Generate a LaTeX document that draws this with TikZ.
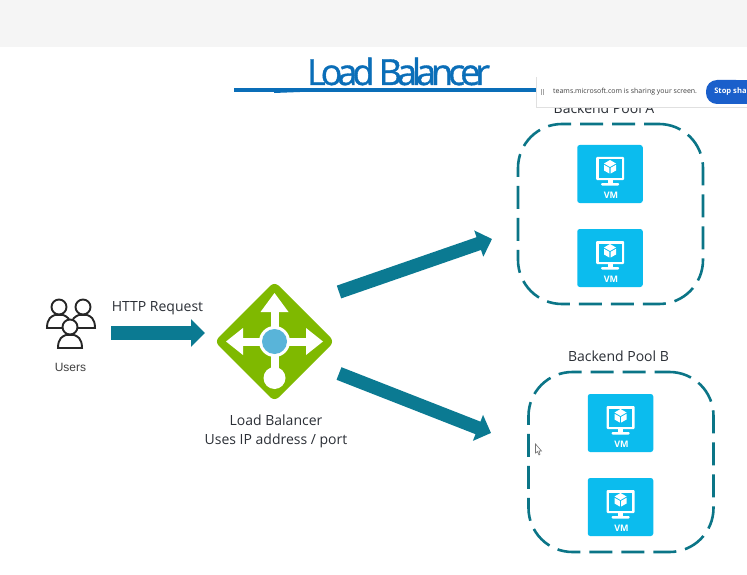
\documentclass[tikz,border=0pt]{standalone}
\usepackage{fontspec}
\setmainfont{Open Sans}
\newfontfamily\titlefont[LetterSpace=-14,FakeBold=1]{Open Sans}
\newfontfamily\armfont{Liberation Sans}
\usetikzlibrary{arrows.meta,shapes.geometric}
\definecolor{teal1}{HTML}{0B7A92}
\definecolor{teal2}{HTML}{0B7587}
\definecolor{vmblue}{HTML}{0BBCEE}
\definecolor{lbgreen}{HTML}{7FB900}
\definecolor{lbblue}{HTML}{59B4D9}
\definecolor{titleblue}{HTML}{0A6EB8}
\definecolor{btnblue}{HTML}{1A5FCB}
\definecolor{txt}{HTML}{2B2F36}
\tikzset{
  flow/.style={line width=13.5pt,teal1,-{Triangle[length=14pt,width=27pt]}},
  poolbox/.style={draw=teal2,line width=2.6pt,rounded corners=44pt,dash pattern=on 23pt off 9pt,dash phase=8pt,minimum width=185pt,minimum height=180pt,inner sep=0pt},
  vmtile/.style={fill=vmblue,rounded corners=2.5pt,minimum width=65.5pt,minimum height=58pt,inner sep=0pt},
  lbl/.style={font=\fontsize{14}{19}\selectfont,text=txt,inner sep=0pt,align=center},
  person/.style={draw=black!85,line width=1.9pt,fill=white},
  pics/vmicon/.style={code={
    \fill[white,rounded corners=1pt] (-14,-17) rectangle (14,6);
    \fill[vmblue] (-11.5,-14.5) rectangle (11.5,3.5);
    \fill[white] (-2.5,6) rectangle (2.5,10);
    \fill[white,rounded corners=1pt] (-9,9) rectangle (9,11.5);
    \fill[white] (0,-14) -- (6,-10.5) -- (0,-7) -- (-6,-10.5) -- cycle;
    \fill[white] (-6,-9.2) -- (-0.7,-6.2) -- (-0.7,-0.5) -- (-6,-3.5) -- cycle;
    \fill[white] (6,-9.2) -- (0.7,-6.2) -- (0.7,-0.5) -- (6,-3.5) -- cycle;
    \node[text=white,inner sep=0pt,font=\fontsize{9}{10}\bfseries\selectfont] at (1,21.5) {VM};
  }},
  pics/personicon/.style={code={
    \draw[person] (-12,21) .. controls (-12,11) and (-7,9) .. (-4,8) -- (4,8) .. controls (7,9) and (12,11) .. (12,21) -- cycle;
    \draw[person] (0,0) circle[radius=7.5];
  }}
}
\begin{document}
\begin{tikzpicture}[x=1pt,y=-1pt]
\useasboundingbox (0,0) rectangle (747,575);
\fill[white] (0,0) rectangle (747,575);
\fill[black!4] (0,0) rectangle (747,47);

% title
\node[inner sep=0pt,text=titleblue,font=\titlefont\fontsize{36}{40}\selectfont] (title) at (398.5,71.5) {Load Balancer};
\fill[titleblue] (234,88) rectangle (540,92);
\fill[titleblue] (274,92) -- (300,92) -- (274,93) -- cycle;

% users
\pic at (59,307) {personicon};
\pic at (83,307) {personicon};
\pic at (70,327) {personicon};
\node[inner sep=0pt,text=black!75,font=\armfont\fontsize{12}{14}\selectfont] (users) at (70.5,367.5) {Users};
\coordinate (usersout) at (111,333);
\node[lbl] (http) at (157.5,308.5) {HTTP Request};

% load balancer
\node[diamond,fill=lbgreen,draw=lbgreen,line width=12pt,line join=round,minimum width=108pt,minimum height=108pt,inner sep=0pt] (lb) at (274.5,341.5) {};
\draw[white,line width=8pt] (274.5,378) -- (274.5,305);
\draw[white,line width=8pt] (235,341.5) -- (313,341.5);
\fill[white] (274.5,293) -- (288.5,312) -- (260.5,312) -- cycle;
\fill[white] (226,341.5) -- (243,328) -- (243,355) -- cycle;
\fill[white] (323,341.5) -- (306,328) -- (306,355) -- cycle;
\fill[white] (274.5,378) circle[radius=11];
\fill[white] (274.5,341.5) circle[radius=15.5];
\fill[lbblue] (274.5,341.5) circle[radius=12.5];
\node[lbl] (lbtext) at (276,431.5) {Load Balancer\\Uses IP address / port};

% pools
\node[poolbox] (poolA) at (610.5,214) {};
\node[poolbox] (poolB) at (621,462) {};
\node[lbl] (poolAt) at (604,108) {Backend Pool A};
\node[lbl] (poolBt) at (618.5,356) {Backend Pool B};

\foreach \nm/\x/\y in {a1/610/174,a2/610/258,b1/620.5/423,b2/620.5/507}{
  \node[vmtile] (\nm) at (\x,\y) {};
  \pic at (\x,\y) {vmicon};
}

% connectors
\coordinate (lbin) at (205,333);
\coordinate (lbup) at (339,292);
\coordinate (lbdown) at (339,373.5);
\coordinate (poolAin) at (492,239);
\coordinate (poolBin) at (491,433);
\draw[flow] (usersout) -- (lbin);
\draw[flow] (lbup) -- (poolAin);
\draw[flow] (lbdown) -- (poolBin);

% screen share bar
\fill[black!12] (536,77) rectangle (747,108.5);
\fill[white] (537,76) rectangle (747,107);
\node[anchor=west,inner sep=0pt,text=black!75,font=\fontsize{7}{9}\selectfont] (share) at (553,92) {teams.microsoft.com is sharing your screen.};
\fill[black!35] (541,89) rectangle (541.7,95);
\fill[black!35] (543,89) rectangle (543.7,95);
\fill[btnblue,rounded corners=11pt] (706,80) -- (747,80) -- (747,104) -- (706,104) -- cycle;
\fill[btnblue] (725,80) rectangle (747,104);
\node[anchor=east,inner sep=0pt,text=white,font=\fontsize{7.6}{10}\bfseries\selectfont] (stop) at (746.8,92) {Stop sha};

% cursor
\draw[black!55,fill=white,line width=0.6pt] (535.5,444) -- (535.5,453) -- (537.5,451.5) -- (539,455) -- (540,454.3) -- (539,451) -- (541.5,451) -- cycle;
\end{tikzpicture}
\end{document}
